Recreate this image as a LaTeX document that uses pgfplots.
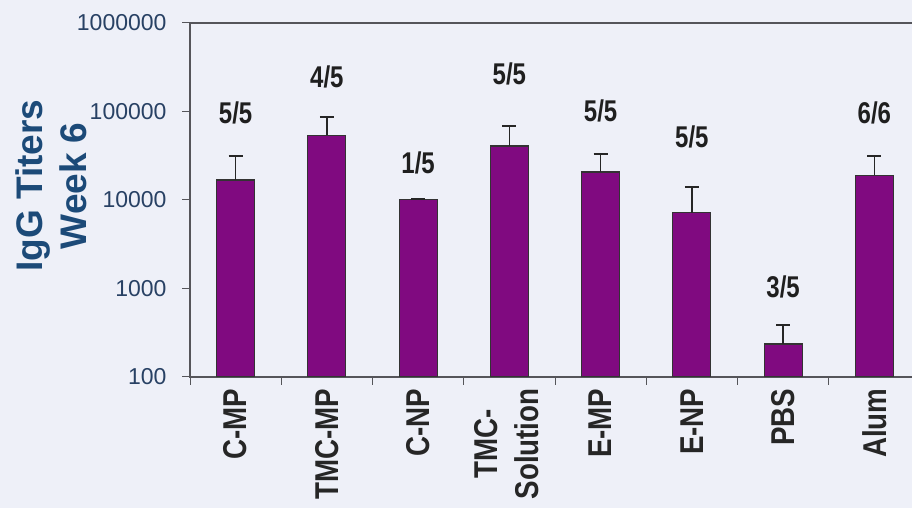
\documentclass[border=0pt]{standalone}
\usepackage{fontspec}
\setmainfont{Liberation Sans}
\usepackage{pgfplots}
\pgfplotsset{compat=1.18}
\usepackage{pgfplotstable}
\definecolor{bg}{RGB}{238,240,248}
\definecolor{barp}{RGB}{128,10,128}
\definecolor{ticklab}{RGB}{40,65,100}
\definecolor{ylab}{RGB}{28,74,120}
\definecolor{axc}{RGB}{85,85,90}
\pgfplotstableread{
x val err ly lab
0 16800 14600 96100 5/5
1 54000 32700 245000 4/5
2 10200 0 26200 1/5
3 40700 27800 265000 5/5
4 20700 12400 101000 5/5
5 7200 6900 51500 5/5
6 236 151 1040 3/5
7 19100 12300 96100 6/6
}\datatable
\newcommand\xl[1]{\scalebox{0.84}[1]{#1}}
\newcommand\yl[1]{#1\rule{12pt}{0pt}}
\begin{document}
\begin{tikzpicture}[x=1pt,y=1pt]
\fill[bg] (0,0) rectangle (912,508);
\begin{scope}
\clip (0,0) rectangle (912,508);
\begin{axis}[
  at={(190pt,131pt)}, anchor=south west,
  scale only axis, width=730pt, height=354pt,
  xmin=-0.5, xmax=7.5,
  ymode=log, ymin=100, ymax=1000000, log origin=infty,
  ytick={100,1000,10000,100000,1000000},
  yticklabels={\yl{100},\yl{1000},\yl{10000},\yl{100000},\yl{1000000}},
  yminorticks=false,
  xtick={-0.5,0.5,...,7.5},
  x tick label as interval,
  xticklabels={\xl{C-MP},\xl{TMC-MP},\xl{C-NP},\xl{\begin{tabular}{@{}c@{}}TMC-\\Solution\end{tabular}},\xl{E-MP},\xl{E-NP},\xl{PBS},\xl{Alum}},
  xtick pos=bottom, ytick pos=left,
  tick align=outside, major tick length=8pt,
  tick style={draw=axc, line width=1pt},
  axis line style={draw=axc, line width=1.2pt},
  xticklabel style={rotate=90, anchor=east, font=\bfseries\fontsize{33}{41}\selectfont, text=black!85},
  yticklabel style={font=\fontsize{23}{27}\selectfont, text=ticklab},
  every axis y label/.style={at={(axis description cs:-0.19,0.54)}, anchor=center, rotate=90, align=center, font=\bfseries\fontsize{37}{44}\selectfont, text=ylab},
  ylabel={IgG Titers\\Week 6},
  axis background/.style={fill=none},
]
\addplot[ybar, bar width=38pt, fill=barp, draw=black!80, line width=1.2pt,
  error bars/.cd, y dir=plus, y explicit,
  error bar style={line width=1.6pt, draw=black!85},
  error mark options={rotate=90, line width=1.6pt, mark size=7pt, draw=black!85}]
  table[x=x, y=val, y error=err] {\datatable};
\addplot[only marks, mark=none, nodes near coords, point meta=explicit symbolic,
  every node near coord/.style={anchor=center, font=\bfseries\fontsize{30}{32}\selectfont, xscale=0.8, text=black!88}]
  table[x=x, y=ly, meta=lab] {\datatable};
\end{axis}
\end{scope}
\pgfresetboundingbox
\useasboundingbox (0,0) rectangle (912,508);
\end{tikzpicture}
\end{document}
